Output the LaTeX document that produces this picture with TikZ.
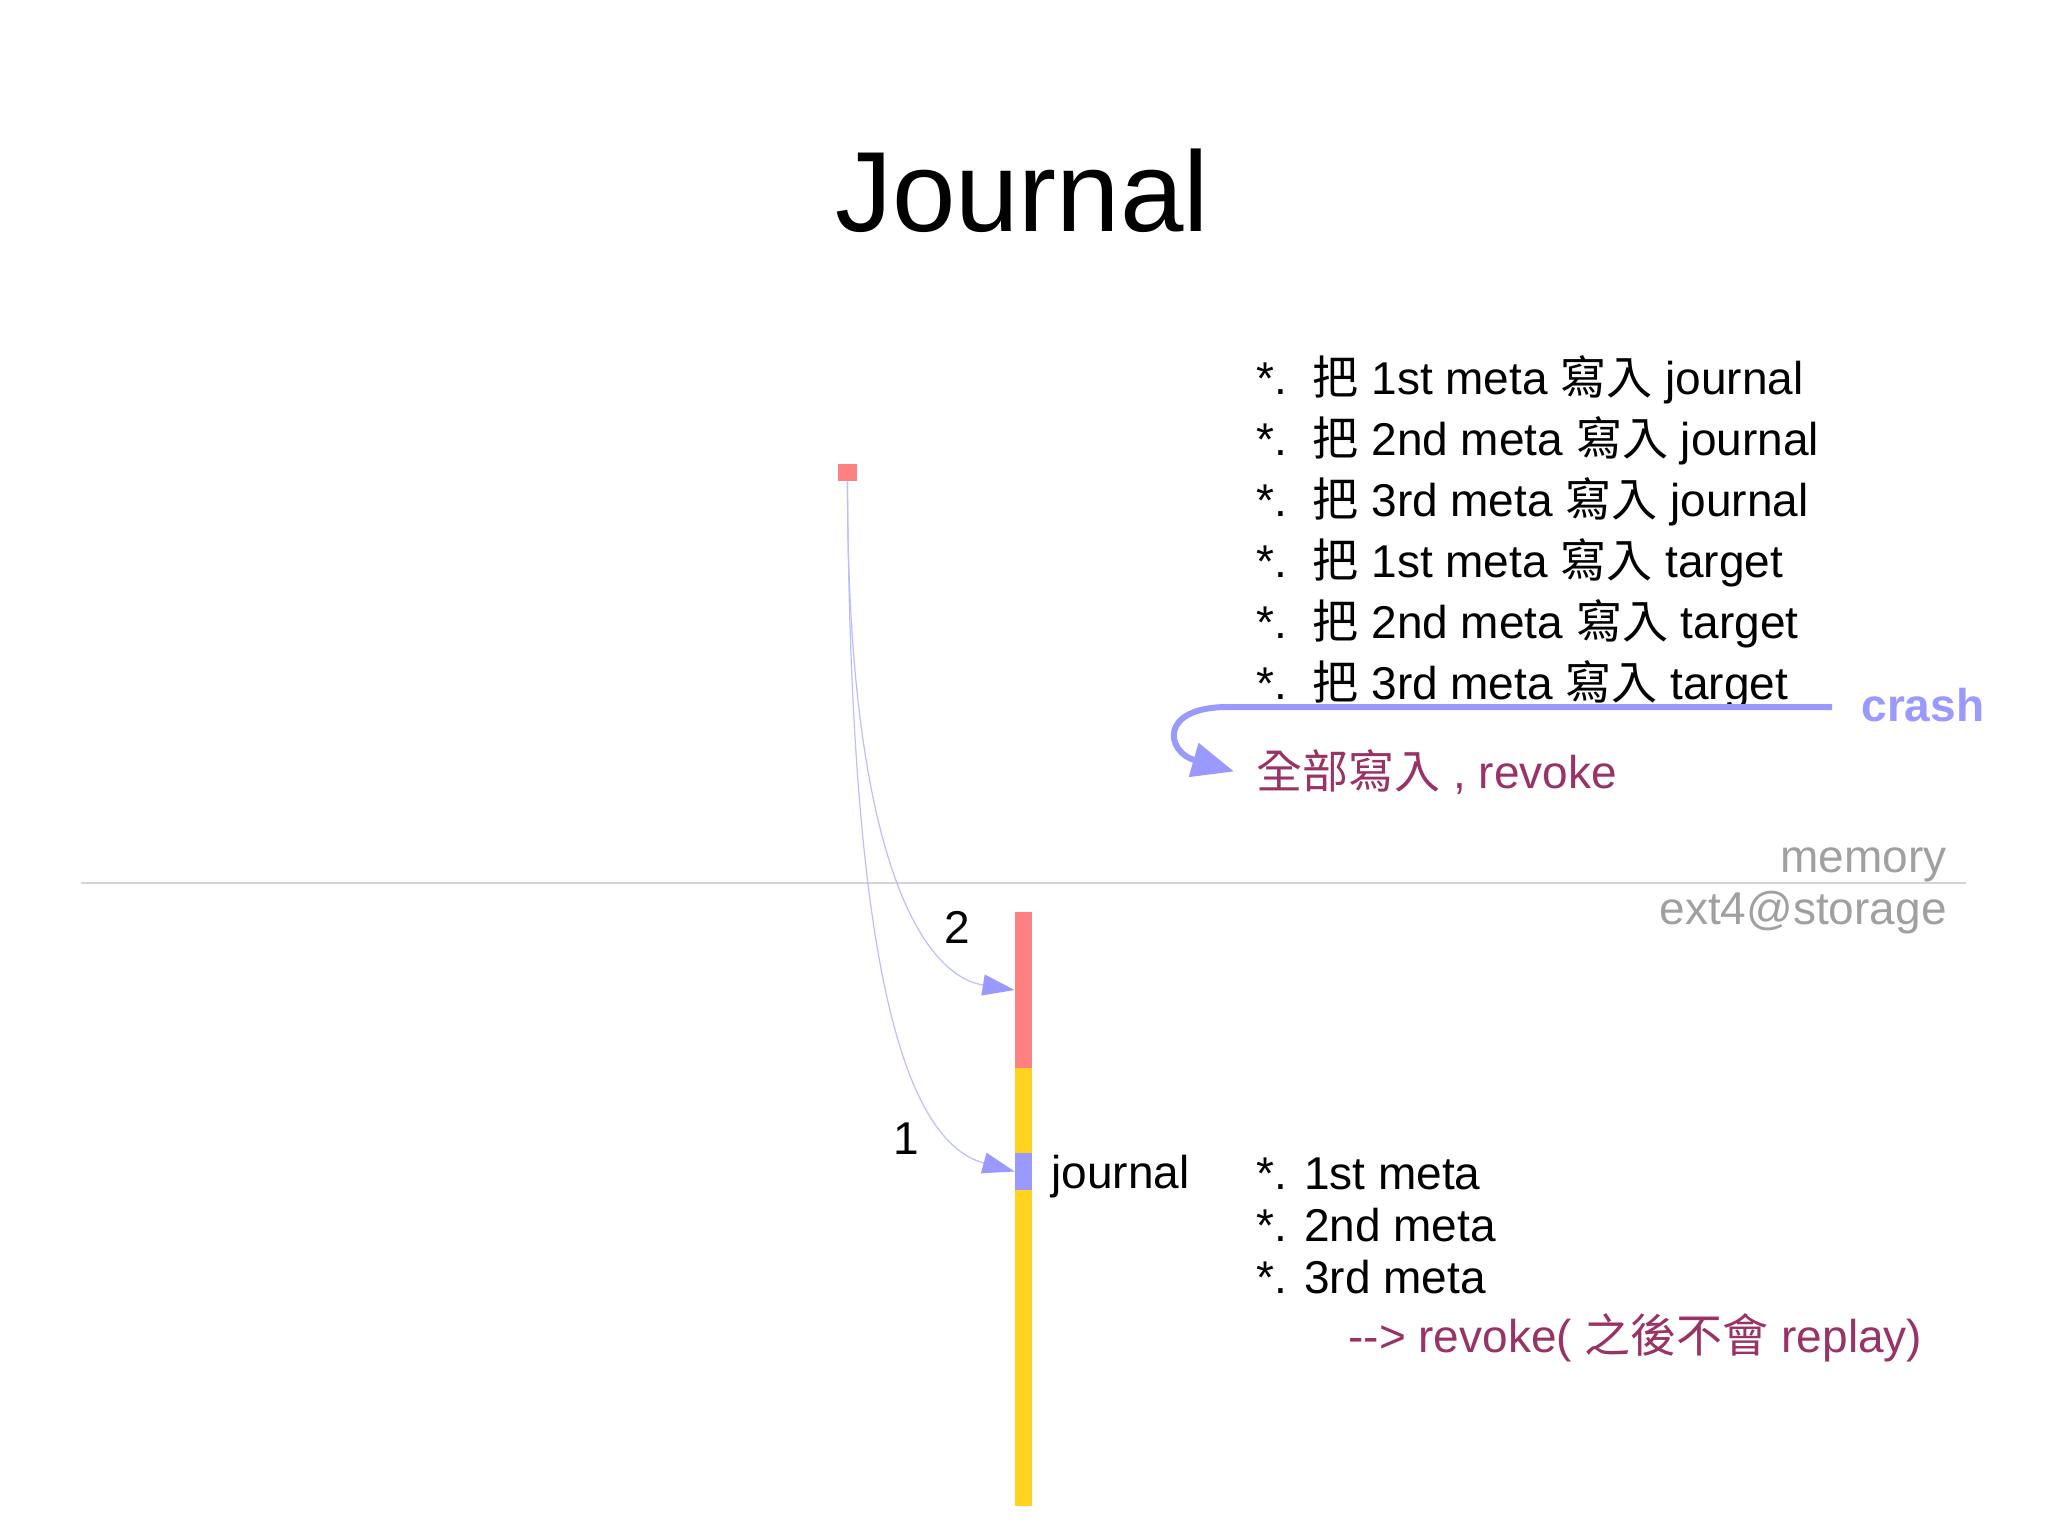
\documentclass[tikz,border=0pt]{standalone}
\usepackage{fontspec}
\setmainfont{Liberation Sans}
\newfontfamily\cjkfont{Noto Sans CJK TC}
\usetikzlibrary{arrows.meta}
\definecolor{salmon}{HTML}{FF8080}
\definecolor{jyellow}{HTML}{FFD320}
\definecolor{lav}{HTML}{9999FF}
\definecolor{lavline}{HTML}{BDBDFF}
\definecolor{wine}{HTML}{993366}
\definecolor{greytxt}{HTML}{A0A0A0}
\definecolor{rulecol}{HTML}{D4D4D4}
\newcommand{\cj}[1]{{\cjkfont #1}}
\begin{document}
\begin{tikzpicture}[x=0.5pt,y=-0.5pt,
  txt/.style={inner sep=0pt, anchor=base west, font=\fontsize{23}{27}\selectfont},
  bar/.style={inner sep=0pt, minimum width=8.5pt},
  conn/.style={draw=lavline, line width=0.6pt, -{Triangle[length=16pt,width=10.5pt,color=lav]}},
  crasharr/.style={draw=lav, line width=3pt, -{Triangle[length=21pt,width=17pt]}}]
\useasboundingbox (0,0) rectangle (2048,1535);
\fill[white] (0,0) rectangle (2048,1535);

% title
\node[inner sep=0pt, anchor=base, font=\fontsize{57}{63}\selectfont] (title) at (1022,232) {Journal};

% memory / storage separator
\coordinate (ruleL) at (81,883);
\coordinate (ruleR) at (1966,883);
\draw[rulecol, line width=1pt] (ruleL) -- (ruleR);
\node[txt, anchor=base east, text=greytxt] (mem) at (1947,872) {memory};
\node[txt, anchor=base east, text=greytxt] (sto) at (1947,924) {ext4@storage};

% source block in memory
\node[fill=salmon, inner sep=0pt, minimum width=9.5pt, minimum height=8.5pt] (src) at (847.5,472.5) {};

% storage bars
\node[bar, fill=jyellow, minimum height=219pt] (ybar) at (1023.5,1287) {};
\node[bar, fill=salmon, minimum height=78pt] (rbar) at (1023.5,990) {};
\node[bar, fill=lav, minimum height=18.5pt] (bbar) at (1023.5,1171.5) {};

% connectors
\draw[conn] (src.south) .. controls (847,850) and (920,975) .. (rbar.west);
\draw[conn] (src.south) .. controls (850,950) and (900,1140) .. (bbar.west);
\node[inner sep=0pt, font=\fontsize{23}{27}\selectfont] (l2) at (957,927) {2};
\node[inner sep=0pt, font=\fontsize{23}{27}\selectfont] (l1) at (906,1139) {1};

\node[txt] (jl) at (1051,1188) {journal};

% upper list
\node[txt] (s1) at (1256,394) {*.~~\cj{把} 1st meta \cj{寫入} journal};
\node[txt] (s2) at (1256,455) {*.~~\cj{把} 2nd meta \cj{寫入} journal};
\node[txt] (s3) at (1256,516) {*.~~\cj{把} 3rd meta \cj{寫入} journal};
\node[txt] (s4) at (1256,577) {*.~~\cj{把} 1st meta \cj{寫入} target};
\node[txt] (s5) at (1256,638) {*.~~\cj{把} 2nd meta \cj{寫入} target};
\node[txt] (s6) at (1256,699) {*.~~\cj{把} 3rd meta \cj{寫入} target};

% crash
\node[txt, text=lav, font=\fontsize{23}{27}\selectfont\bfseries] (crash) at (1861,721) {crash};
\node[txt, text=wine] (rev) at (1256,788) {\cj{全部寫入} , revoke};
\coordinate (cstart) at (1832,707);
\draw[crasharr] (cstart) -- (1228,707) .. controls (1158,707) and (1166,752) .. ([xshift=-11pt]rev.west);

% lower list
\node[txt] (m1) at (1256,1189) {*. 1st meta};
\node[txt] (m2) at (1256,1241) {*. 2nd meta};
\node[txt] (m3) at (1256,1293) {*. 3rd meta};
\node[txt, text=wine] (rp) at (1348,1352) {-{}-{}>~revoke(~\cj{之後不會}~replay)};
\end{tikzpicture}
\end{document}
